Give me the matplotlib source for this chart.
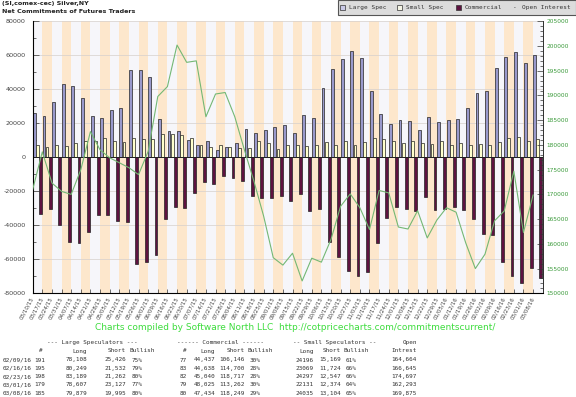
import numpy as np
import matplotlib
matplotlib.use("Agg")
import matplotlib.pyplot as plt
from matplotlib.patches import Rectangle
from matplotlib.ticker import MultipleLocator

# weekly report dates (Tuesdays)
dates = ["03/10/15", "03/17/15", "03/24/15", "03/31/15", "04/07/15", "04/14/15", "04/21/15",
         "04/28/15", "05/05/15", "05/12/15", "05/19/15", "05/26/15", "06/02/15", "06/09/15",
         "06/16/15", "06/23/15", "06/30/15", "07/07/15", "07/14/15", "07/21/15", "07/28/15",
         "08/04/15", "08/11/15", "08/18/15", "08/25/15", "09/01/15", "09/08/15", "09/15/15",
         "09/22/15", "09/29/15", "10/06/15", "10/13/15", "10/20/15", "10/27/15", "11/03/15",
         "11/10/15", "11/17/15", "11/24/15", "12/01/15", "12/08/15", "12/15/15", "12/22/15",
         "12/29/15", "01/05/16", "01/12/16", "01/19/16", "01/26/16", "02/02/16", "02/09/16",
         "02/16/16", "02/23/16", "03/01/16", "03/08/16"]

# net positions (contracts)
large_spec = [25900, 24300, 32500, 43300, 42100, 34700, 24300, 22900, 27800, 29200, 51500,
              51300, 47000, 22700, 15600, 15600, 10200, 7200, 9400, 4300, 6200, 8400, 16800,
              14100, 15900, 17600, 18800, 14100, 25100, 23300, 40900, 51900, 57600, 62300,
              58600, 39000, 25300, 19400, 22100, 21300, 15900, 23500, 20700, 21900, 22500,
              29000, 37600, 38800, 52682, 58717, 61927, 55480, 59884]
small_spec = [7400, 6100, 7100, 6700, 8600, 9400, 9800, 11100, 9600, 8800, 11100, 10500,
              10700, 13500, 13500, 13300, 11100, 7400, 6200, 7000, 6000, 5300, 5300, 9400,
              8600, 5100, 7000, 7000, 6700, 7000, 8800, 7000, 9400, 7000, 8800, 11100, 10600,
              9400, 8200, 9600, 8200, 7600, 9400, 7400, 8200, 7200, 7600, 7200, 9027, 11345,
              11750, 9757, 10931]
commercial = [-33300, -30400, -39600, -50000, -50600, -43900, -33700, -34100, -37300, -38200,
              -62500, -61700, -57600, -36100, -29000, -29800, -21200, -14700, -15500, -11200,
              -12400, -13900, -22600, -23700, -23900, -22600, -25500, -21400, -31600, -30200,
              -49600, -58800, -67000, -69600, -67400, -50300, -35900, -29000, -30200, -31400,
              -23500, -31200, -30200, -29000, -30800, -36100, -45100, -45500, -61709, -70062,
              -73677, -65237, -70815]
open_interest = [171000, 178600, 172300, 170600, 170000, 175000, 182700, 179000, 177400,
                 176400, 175400, 174000, 178700, 189800, 191800, 200200, 196700, 197000,
                 185700, 190300, 190600, 185700, 179000, 172600, 165600, 157200, 155700,
                 158100, 152500, 157100, 156300, 160900, 167600, 170100, 167300, 162900,
                 170800, 170300, 163400, 163000, 166700, 161200, 164800, 167300, 166400,
                 160200, 155000, 157900, 164664, 166645, 174697, 162293, 169875]

# table under the chart
tbl_dates = ["02/09/16", "02/16/16", "02/23/16", "03/01/16", "03/08/16"]
ls_n = ["191", "195", "198", "179", "185"]
ls_long = ["78,108", "80,249", "83,189", "78,607", "79,879"]
ls_short = ["25,426", "21,532", "21,262", "23,127", "19,995"]
ls_bull = ["75%", "79%", "80%", "77%", "80%"]
cm_n = ["77", "83", "82", "79", "80"]
cm_long = ["44,437", "44,638", "45,040", "48,025", "47,434"]
cm_short = ["106,146", "114,700", "118,717", "113,262", "118,249"]
cm_bull = ["30%", "28%", "28%", "30%", "29%"]
ss_long = ["24196", "23069", "24297", "22131", "24035"]
ss_short = ["15,169", "11,724", "12,547", "12,374", "13,104"]
ss_bull = ["61%", "66%", "66%", "64%", "65%"]
oi_txt = ["164,664", "166,645", "174,697", "162,293", "169,875"]

W, H = 576, 397


def fx(px):
    return px / W


def fy(py):
    return 1 - py / H


fig = plt.figure(figsize=(W / 100, H / 100), dpi=100)
fig.patch.set_facecolor("white")

x0, x1, ytop, ybot = 32.7, 542.7, 21.3, 293.3
ax = fig.add_axes([fx(x0), fy(ybot), (x1 - x0) / W, (ybot - ytop) / H])
ax.set_facecolor("white")

n = len(dates)
x = np.arange(n)

# alternating week bands
for k in range(n):
    ax.axvspan(k, k + 1, color="#fde7cc" if k % 2 else "#f6f6fa", lw=0, zorder=0)

for yv in range(-60000, 80001, 20000):
    ax.axhline(yv, color="#d6d0cc", lw=0.5, zorder=1)

bw = 0.3
ax.bar(x + 0.02, large_spec, width=bw, align="edge", color="#9999cc",
       edgecolor="#222222", lw=0.5, zorder=3)
ax.bar(x + 0.34, small_spec, width=bw, align="edge", color="#ffffcc",
       edgecolor="#222222", lw=0.5, zorder=3)
ax.bar(x + 0.66, commercial, width=bw, align="edge", color="#5e1240",
       edgecolor="#222222", lw=0.5, zorder=3)
ax.axhline(0, color="#222222", lw=0.7, zorder=4)

ax.set_xlim(0, n)
ax.set_ylim(-80000, 80000)
ax.set_yticks(range(-80000, 80001, 20000))
ax.set_yticklabels([str(v) for v in range(-80000, 80001, 20000)])
ax.yaxis.set_minor_locator(MultipleLocator(10000))
ax.set_xticks(x)
ax.set_xticklabels(dates, rotation=62, ha="right", va="center",
                   rotation_mode="anchor", fontsize=4.0, color="#444444")
ax.tick_params(axis="x", direction="in", length=3, width=0.5, pad=3, color="#333333")
ax.tick_params(axis="y", which="major", direction="in", length=4, width=0.5,
               labelsize=4.6, labelcolor="#444444", pad=5, color="#333333")
ax.tick_params(axis="y", which="minor", direction="in", length=2, width=0.5, color="#333333")
ax.spines["top"].set_visible(False)
for s in ("left", "bottom", "right"):
    ax.spines[s].set_color("#333333")
    ax.spines[s].set_linewidth(0.7)

ax2 = ax.twinx()
ax2.plot(x, open_interest, color="#74b874", lw=0.8, zorder=5)
ax2.set_ylim(150000, 205000)
ax2.set_yticks(range(150000, 205001, 5000))
ax2.yaxis.set_minor_locator(MultipleLocator(1000))
ax2.tick_params(axis="y", which="major", direction="in", length=4, width=0.5,
                labelsize=4.2, labelcolor="#3a9a3a", pad=3, color="#333333")
ax2.tick_params(axis="y", which="minor", direction="in", length=2, width=0.5, color="#333333")
ax2.spines["top"].set_visible(False)
ax2.spines["right"].set_color("#333333")
ax2.spines["right"].set_linewidth(0.7)

# title
fig.text(fx(2), fy(4), "(SI,comex-cec) Silver,NY", fontsize=4.6, fontweight="bold",
         color="#222222", va="center", ha="left")
fig.text(fx(2), fy(11.5), "Net Commitments of Futures Traders", fontsize=4.6,
         fontweight="bold", color="#222222", va="center", ha="left")

# legend box
fig.patches.append(Rectangle((fx(337.5), fy(15)), (576 - 337.5) / W, 15 / H,
                             transform=fig.transFigure, facecolor="#dcdcdc",
                             edgecolor="#555555", lw=0.8, zorder=1))
legend_items = [(342, "#c8c8e6", "Large Spec"), (399, "#f4f4e4", "Small Spec"),
                (458, "#5e1240", "Commercial")]
for mx, mc, lab in legend_items:
    fig.patches.append(Rectangle((fx(mx - 2), fy(9.5)), 4.5 / W, 4.5 / H,
                                 transform=fig.transFigure, facecolor=mc,
                                 edgecolor="#333333", lw=0.5, zorder=2))
    fig.text(fx(mx + 7), fy(7.5), lab, family="DejaVu Sans Mono", fontsize=4.4,
             color="#333333", va="center", ha="left", zorder=3)
fig.text(fx(513), fy(7.5), "-", family="DejaVu Sans Mono", fontsize=4.4,
         color="#333333", va="center", ha="left")
fig.text(fx(522), fy(7.5), "Open Interest", family="DejaVu Sans Mono", fontsize=4.4,
         color="#333333", va="center", ha="left")

# footer
fig.text(fx(95), fy(328), "Charts compiled by Software North LLC  "
         "http://cotpricecharts.com/commitmentscurrent/", fontsize=6.5,
         color="#3ddc3d", va="center", ha="left")

# table
mono = dict(family="DejaVu Sans Mono", fontsize=4.3, color="#333333", va="center")
fig.text(fx(47), fy(342.5), "--- Large Speculators ---", ha="left", **mono)
fig.text(fx(177), fy(342.5), "------ Commercial ------", ha="left", **mono)
fig.text(fx(293), fy(342.5), "-- Small Speculators --", ha="left", **mono)
fig.text(fx(417), fy(342.5), "Open", ha="right", **mono)

hdr = [(43, "#", "right"), (87, "Long", "right"), (126, "Short", "right"),
       (129, "Bullish", "left"), (183, "#", "left"), (215, "Long", "right"),
       (245, "Short", "right"), (247, "Bullish", "left"), (314, "Long", "right"),
       (341, "Short", "right"), (343, "Bullish", "left"), (417, "Intrest", "right")]
for hx, ht, ha in hdr:
    fig.text(fx(hx), fy(351), ht, ha=ha, **mono)

cols = [(3, tbl_dates, "left"), (34, ls_n, "left"), (87, ls_long, "right"),
        (126, ls_short, "right"), (132, ls_bull, "left"), (180, cm_n, "left"),
        (215, cm_long, "right"), (245, cm_short, "right"), (250, cm_bull, "left"),
        (314, ss_long, "right"), (341, ss_short, "right"), (346, ss_bull, "left"),
        (417, oi_txt, "right")]
for i in range(len(tbl_dates)):
    ry = 360 + i * 8.3
    for cx, vals, ha in cols:
        fig.text(fx(cx), fy(ry), vals[i], ha=ha, **mono)

fig.savefig("out.png", dpi=100)
